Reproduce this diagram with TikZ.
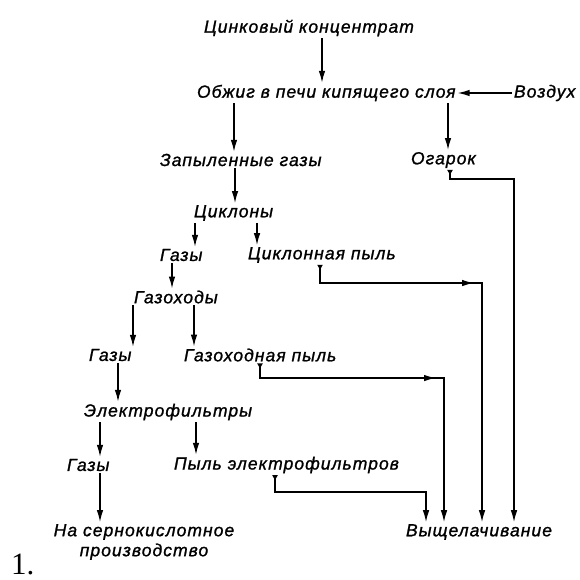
\documentclass[tikz,border=0pt]{standalone}
\usepackage{fontspec}
\setmainfont{Liberation Serif}
\newfontfamily\draft[LetterSpace=6,FakeBold=1.2]{Liberation Sans}
\usetikzlibrary{arrows.meta}
\begin{document}
\begin{tikzpicture}[x=1pt,y=-1pt,
  lbl/.style={anchor=west,inner sep=0pt,outer sep=2pt,font=\draft\itshape\fontsize{17.5}{20}\selectfont},
  flow/.style={line width=1.4pt,-{Latex[length=12pt,width=6.5pt]}},
  ret/.style={line width=1.4pt,{Latex[length=6pt,width=6pt,reversed]}-{Latex[length=12pt,width=6.5pt]}},
  midarr/.style={line width=1.4pt,-{Latex[length=12pt,width=6.5pt]}}]
\useasboundingbox (0,0) rectangle (579,580);
\node[lbl] (conc) at (202,28) {Цинковый концентрат};
\node[lbl] (roast) at (195,93) {Обжиг в печи кипящего слоя};
\node[lbl] (air) at (512,93) {Воздух};
\node[lbl] (dust) at (158,160) {Запыленные газы};
\node[lbl] (cinder) at (409,160) {Огарок};
\node[lbl] (cycl) at (192,213) {Циклоны};
\node[lbl] (gas1) at (158,255) {Газы};
\node[lbl] (cdust) at (246,255) {Циклонная пыль};
\node[lbl] (flues) at (132,297) {Газоходы};
\node[lbl] (gas2) at (87,355) {Газы};
\node[lbl] (fdust) at (182,355) {Газоходная пыль};
\node[lbl] (ep) at (82,412) {Электрофильтры};
\node[lbl] (gas3) at (65,465) {Газы};
\node[lbl] (epdust) at (172,465) {Пыль электрофильтров};
\node[lbl,anchor=center,align=center] (acid) at (144,542) {На сернокислотное\\производство};
\node[lbl] (leach) at (404,532) {Выщелачивание};
\node[anchor=base west,inner sep=0pt,font=\fontsize{31}{31}\selectfont] (num) at (11,574) {1.};

\draw[flow] (322,0 |- conc.south) -- (322,0 |- roast.north);
\draw[flow] (air.west) -- (roast.east);
\draw[flow] (234,0 |- roast.south) -- (234,0 |- dust.north);
\draw[flow] (448,0 |- roast.south) -- (448,0 |- cinder.north);
\draw[flow] (235,0 |- dust.south) -- (235,0 |- cycl.north);
\draw[flow] (195,0 |- cycl.south) -- (195,0 |- gas1.north);
\draw[flow] (257,0 |- cycl.south) -- (257,0 |- cdust.north);
\draw[flow] (172,0 |- gas1.south) -- (172,0 |- flues.north);
\draw[flow] (133,0 |- flues.south) -- (133,0 |- gas2.north);
\draw[flow] (194,0 |- flues.south) -- (194,0 |- fdust.north);
\draw[flow] (118,0 |- gas2.south) -- (118,0 |- ep.north);
\draw[flow] (100,0 |- ep.south) -- (100,0 |- gas3.north);
\draw[flow] (196,0 |- ep.south) -- (196,0 |- epdust.north);
\draw[flow] (100,0 |- gas3.south) -- (100,0 |- acid.north);

\coordinate (k1) at (450,179);
\coordinate (k2) at (514,179);
\draw[ret] (450,0 |- cinder.south) -- (k1) -- (k2) -- (514,0 |- leach.north);

\coordinate (c1) at (320,283);
\coordinate (c2) at (482,283);
\coordinate (c3) at (474,283);
\draw[ret] (320,0 |- cdust.south) -- (c1) -- (c2) -- (482,0 |- leach.north);
\draw[midarr] (c1) -- (c3);

\coordinate (f1) at (260,378);
\coordinate (f2) at (444,378);
\coordinate (f3) at (436,378);
\draw[ret] (260,0 |- fdust.south) -- (f1) -- (f2) -- (444,0 |- leach.north);
\draw[midarr] (f1) -- (f3);

\coordinate (e1) at (275,492);
\coordinate (e2) at (426,492);
\draw[ret] (275,0 |- epdust.south) -- (e1) -- (e2) -- (426,0 |- leach.north);
\end{tikzpicture}
\end{document}
